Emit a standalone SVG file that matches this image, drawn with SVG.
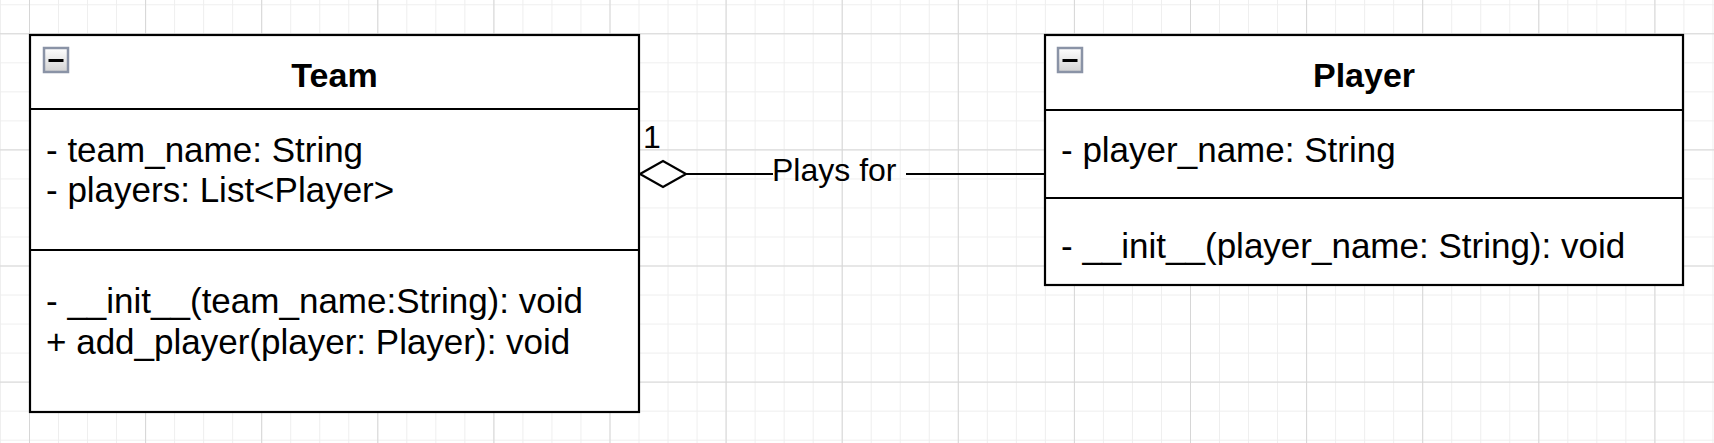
<svg xmlns="http://www.w3.org/2000/svg" width="1714" height="443" viewBox="0 0 1714 443">
<style>
.box{fill:#ffffff;stroke:#000000;stroke-width:2.2}
.div{stroke:#000000;stroke-width:2.2}
.title{font-family:"Liberation Sans",Arial,sans-serif;font-weight:bold;font-size:34px;fill:#000000;text-anchor:middle}
.txt{font-family:"Liberation Sans",Arial,sans-serif;font-size:35px;fill:#000000}
.lbl{font-family:"Liberation Sans",Arial,sans-serif;font-size:32px;fill:#000000}
.edge{stroke:#000000;stroke-width:2.2;fill:none}
.iconframe{fill:url(#ig);stroke:#8a93a6;stroke-width:2.5}
</style>
<defs>
<pattern id="minor" patternUnits="userSpaceOnUse" x="29" y="4.3" width="29.025" height="29.025">
<path d="M0.5 0V29.025M0 0.5H29.025" stroke="#eeeeee" stroke-width="1" fill="none"/>
</pattern>
<pattern id="major" patternUnits="userSpaceOnUse" x="29" y="33.3" width="116.1" height="116.1">
<path d="M0.5 0V116.1M0 0.5H116.1" stroke="#d6d6d6" stroke-width="1" fill="none"/>
</pattern>
<linearGradient id="ig" x1="0" y1="0" x2="0" y2="1">
<stop offset="0" stop-color="#ffffff"/>
<stop offset="1" stop-color="#d2d2d2"/>
</linearGradient>
<g id="icon">
<rect class="iconframe" x="0" y="0" width="24" height="24"/>
<rect x="4.5" y="11" width="15" height="3" fill="#000000"/>
</g>
</defs>
<rect width="1714" height="443" fill="#ffffff"/>
<rect width="1714" height="443" fill="url(#minor)"/>
<rect width="1714" height="443" fill="url(#major)"/>

<g id="connectors">
<polygon class="edge" points="640,174 663,161 686,174 663,187" style="fill:#ffffff"/>
<line class="edge" x1="686" y1="174" x2="773" y2="174"/>
<line class="edge" x1="906" y1="174" x2="1045" y2="174"/>
<text class="lbl" x="772" y="181">Plays for</text>
<text class="lbl" x="643" y="148">1</text>
</g>

<g id="node-team">
<rect class="box" x="30" y="35" width="609" height="377"/>
<line class="div" x1="30" y1="109" x2="639" y2="109"/>
<line class="div" x1="30" y1="250" x2="639" y2="250"/>
<use href="#icon" x="44" y="48"/>
<text class="title" x="334.5" y="87">Team</text>
<text class="txt" x="46" y="161.5">- team_name: String</text>
<text class="txt" x="46" y="201.5">- players: List&lt;Player&gt;</text>
<text class="txt" x="46" y="313">- __init__(team_name:String): void</text>
<text class="txt" x="46" y="354">+ add_player(player: Player): void</text>
</g>

<g id="node-player">
<rect class="box" x="1045" y="35" width="638" height="250"/>
<line class="div" x1="1045" y1="110" x2="1683" y2="110"/>
<line class="div" x1="1045" y1="198" x2="1683" y2="198"/>
<use href="#icon" x="1058" y="48"/>
<text class="title" x="1364" y="87">Player</text>
<text class="txt" x="1061" y="161.5">- player_name: String</text>
<text class="txt" x="1061" y="258">- __init__(player_name: String): void</text>
</g>
</svg>
